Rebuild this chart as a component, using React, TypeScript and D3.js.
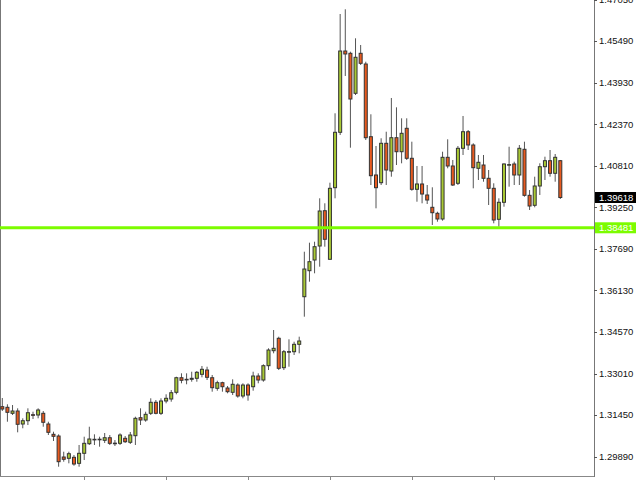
import { useRef, useEffect } from 'react';
import * as d3 from 'd3';

// OHLC, oldest first
const opens = [
  1.31764, 1.31741, 1.31516, 1.31602, 1.31114, 1.31238, 1.31463, 1.31452, 1.31516, 1.31114,
  1.30727, 1.30663, 1.29875, 1.29826, 1.29864, 1.29638, 1.30014, 1.30374, 1.30540, 1.30540,
  1.30502, 1.30599, 1.30395, 1.30389, 1.30577, 1.30427, 1.30675, 1.31351, 1.31264, 1.31516,
  1.31929, 1.31516, 1.31978, 1.32053, 1.32304, 1.32852, 1.32792, 1.32792, 1.32830, 1.32980,
  1.33141, 1.32852, 1.32454, 1.32665, 1.32465, 1.32304, 1.32578, 1.32165, 1.32578, 1.32514,
  1.32916, 1.32766, 1.33303, 1.33866, 1.34332, 1.33228, 1.33828, 1.33828, 1.34106, 1.35893,
  1.36870, 1.37271, 1.37797, 1.39122, 1.37298, 1.39986, 1.42066, 1.45118, 1.45032, 1.43530,
  1.45032, 1.44630, 1.41901, 1.40463, 1.40174, 1.41653, 1.40613, 1.41863, 1.41337, 1.42216,
  1.41090, 1.39926, 1.40125, 1.39712, 1.39250, 1.39025, 1.38811, 1.41127, 1.40801, 1.40151,
  1.41465, 1.42088, 1.41589, 1.40714, 1.40838, 1.40339, 1.39963, 1.38799, 1.39438, 1.40849,
  1.40876, 1.40463, 1.41428, 1.39700, 1.39325, 1.40050, 1.40774, 1.41000, 1.40527, 1.41000,
];
const highs = [
  1.32090, 1.31854, 1.31827, 1.31703, 1.31328, 1.31703, 1.31576, 1.31703, 1.31602, 1.31200,
  1.30825, 1.30727, 1.30074, 1.30074, 1.29950, 1.30326, 1.30637, 1.31012, 1.30727, 1.30637,
  1.30776, 1.30701, 1.30513, 1.30765, 1.30663, 1.30814, 1.31388, 1.31703, 1.31576, 1.32079,
  1.32015, 1.32079, 1.32229, 1.32390, 1.32890, 1.33017, 1.33017, 1.33077, 1.33104, 1.33292,
  1.33265, 1.32954, 1.32740, 1.32702, 1.32541, 1.32792, 1.32642, 1.32642, 1.32642, 1.33077,
  1.33017, 1.33355, 1.33956, 1.34643, 1.34392, 1.33892, 1.34294, 1.34204, 1.34392, 1.37583,
  1.37921, 1.37958, 1.39588, 1.39400, 1.40174, 1.42779, 1.46507, 1.46684, 1.45092, 1.45595,
  1.45344, 1.44716, 1.42742, 1.41551, 1.41841, 1.42088, 1.43354, 1.43004, 1.42591, 1.42591,
  1.41713, 1.40801, 1.40801, 1.40087, 1.40001, 1.39085, 1.41337, 1.41803, 1.41026, 1.41551,
  1.42678, 1.42152, 1.41653, 1.41214, 1.41214, 1.40650, 1.40151, 1.39588, 1.40902, 1.41525,
  1.40962, 1.41589, 1.41713, 1.39899, 1.40399, 1.40902, 1.41150, 1.41401, 1.41251, 1.41026,
];
const lows = [
  1.31602, 1.31200, 1.31452, 1.30802, 1.30953, 1.31076, 1.31302, 1.31328, 1.31012, 1.30701,
  1.30476, 1.29511, 1.29699, 1.29638, 1.29548, 1.29511, 1.29762, 1.30326, 1.30326, 1.30262,
  1.30401, 1.30326, 1.30288, 1.30326, 1.30401, 1.30363, 1.30326, 1.31076, 1.31200, 1.31452,
  1.31478, 1.31452, 1.31891, 1.31951, 1.32229, 1.32642, 1.32605, 1.32702, 1.32702, 1.32867,
  1.32766, 1.32327, 1.32364, 1.32327, 1.32267, 1.32203, 1.32102, 1.32079, 1.31989, 1.32364,
  1.32642, 1.32702, 1.33141, 1.33768, 1.33141, 1.33141, 1.33265, 1.33705, 1.33768, 1.35143,
  1.36457, 1.36772, 1.37020, 1.37771, 1.37290, 1.39588, 1.41964, 1.44180, 1.41488, 1.43466,
  1.44593, 1.41777, 1.40087, 1.39212, 1.40087, 1.40087, 1.40399, 1.40838, 1.40902, 1.41026,
  1.39873, 1.39460, 1.39400, 1.39374, 1.38586, 1.38709, 1.38747, 1.40714, 1.40050, 1.40087,
  1.41214, 1.41401, 1.39963, 1.40275, 1.40211, 1.39336, 1.38649, 1.38522, 1.39272, 1.40024,
  1.40087, 1.40087, 1.39648, 1.39149, 1.39250, 1.39712, 1.40275, 1.40399, 1.40211, 1.39562,
];
const closes = [
  1.31677, 1.31553, 1.31602, 1.31103, 1.31238, 1.31538, 1.31441, 1.31640, 1.31178, 1.30802,
  1.30652, 1.29699, 1.29789, 1.29999, 1.29612, 1.30014, 1.30389, 1.30551, 1.30536, 1.30544,
  1.30599, 1.30389, 1.30389, 1.30701, 1.30449, 1.30701, 1.31328, 1.31264, 1.31478, 1.31929,
  1.31516, 1.31978, 1.32079, 1.32289, 1.32852, 1.32755, 1.32788, 1.32830, 1.33055, 1.33168,
  1.32867, 1.32477, 1.32665, 1.32514, 1.32327, 1.32605, 1.32165, 1.32578, 1.32203, 1.32916,
  1.32766, 1.33303, 1.33892, 1.33956, 1.33205, 1.33828, 1.33832, 1.34106, 1.34230, 1.36933,
  1.37208, 1.37771, 1.39111, 1.38049, 1.39963, 1.42066, 1.45118, 1.45006, 1.43316, 1.44882,
  1.44656, 1.41863, 1.40436, 1.39986, 1.41653, 1.40650, 1.41863, 1.41337, 1.42028, 1.41090,
  1.39926, 1.40125, 1.39749, 1.39524, 1.39047, 1.38811, 1.41127, 1.40801, 1.40087, 1.41465,
  1.42088, 1.41589, 1.40737, 1.40940, 1.40339, 1.39963, 1.38773, 1.39438, 1.40876, 1.40853,
  1.40463, 1.41465, 1.39700, 1.39299, 1.40050, 1.40774, 1.41000, 1.40527, 1.41127, 1.39618,
];

const priceTicks = [1.4705, 1.4549, 1.4393, 1.4237, 1.4081, 1.3925, 1.3769, 1.3613, 1.3457, 1.3301, 1.3145, 1.2989];
const lastPrice = 1.39618;
const levelPrice = 1.38481;
const timeTickEvery = 16;

const W = 640;
const H = 480;
const plotRight = 594;
const plotBottom = 476;

const BULL = '#a9c934';
const BEAR = '#e85a1f';

export default function App() {
  const svgRef = useRef<SVGSVGElement>(null);

  useEffect(() => {
    if (!svgRef.current) return;
    document.body.style.margin = '0';

    const svg = d3.select(svgRef.current);
    svg.selectAll('*').remove();

    const n = opens.length;
    const x = d3.scaleLinear().domain([0, n - 1]).range([2.3, 560.3]);
    const y = d3.scaleLinear().domain([1.29162, 1.47033]).range([plotBottom, 0]);

    svg.append('rect').attr('width', W).attr('height', H).attr('fill', '#fff');

    // frame
    svg.append('line')
      .attr('x1', 0.5).attr('x2', 0.5).attr('y1', 0).attr('y2', plotBottom)
      .attr('stroke', '#777');
    svg.append('line')
      .attr('x1', 0).attr('x2', plotRight).attr('y1', plotBottom + 0.5).attr('y2', plotBottom + 0.5)
      .attr('stroke', '#888');
    svg.append('line')
      .attr('x1', plotRight + 0.5).attr('x2', plotRight + 0.5).attr('y1', 0).attr('y2', plotBottom + 1)
      .attr('stroke', '#777');

    // time ticks
    const tIdx = d3.range(timeTickEvery, n, timeTickEvery);
    svg.append('g').selectAll('line')
      .data(tIdx)
      .enter()
      .append('line')
      .attr('x1', d => Math.round(x(d)) + 0.5)
      .attr('x2', d => Math.round(x(d)) + 0.5)
      .attr('y1', plotBottom)
      .attr('y2', plotBottom + 4)
      .attr('stroke', '#888');

    // candles
    const idx = d3.range(n);
    const g = svg.append('g');
    g.selectAll('line.wick')
      .data(idx)
      .enter()
      .append('line')
      .attr('class', 'wick')
      .attr('x1', i => x(i)).attr('x2', i => x(i))
      .attr('y1', i => y(highs[i])).attr('y2', i => y(lows[i]))
      .attr('stroke', '#555')
      .attr('stroke-width', 1);

    g.selectAll('rect.body')
      .data(idx)
      .enter()
      .append('rect')
      .attr('class', 'body')
      .attr('x', i => x(i) - 1.5)
      .attr('width', 3)
      .attr('y', i => y(Math.max(opens[i], closes[i])))
      .attr('height', i => Math.max(0.6, Math.abs(y(opens[i]) - y(closes[i]))))
      .attr('fill', i => (closes[i] >= opens[i] ? BULL : BEAR))
      .attr('stroke', '#333')
      .attr('stroke-width', 1);

    // horizontal level
    svg.append('line')
      .attr('x1', 0).attr('x2', plotRight)
      .attr('y1', y(levelPrice)).attr('y2', y(levelPrice))
      .attr('stroke', '#7cfc00')
      .attr('stroke-width', 3);

    // price axis
    const axis = svg.append('g').style('font-family', '"Liberation Sans", Arial, sans-serif').style('font-size', '9.5px');
    axis.selectAll('line')
      .data(priceTicks)
      .enter()
      .append('line')
      .attr('x1', plotRight).attr('x2', plotRight + 3)
      .attr('y1', d => Math.round(y(d)) + 0.5).attr('y2', d => Math.round(y(d)) + 0.5)
      .attr('stroke', '#555');
    axis.selectAll('text')
      .data(priceTicks)
      .enter()
      .append('text')
      .attr('x', plotRight + 5)
      .attr('y', d => y(d))
      .attr('dy', '0.35em')
      .attr('fill', '#111')
      .text(d => d.toFixed(5));

    const tag = (price: number, bg: string, fg: string) => {
      const yy = y(price);
      axis.append('rect')
        .attr('x', plotRight + 1).attr('y', yy - 5.5)
        .attr('width', 41).attr('height', 11)
        .attr('fill', bg);
      axis.append('text')
        .attr('x', plotRight + 5).attr('y', yy)
        .attr('dy', '0.35em')
        .attr('fill', fg)
        .text(price.toFixed(5));
    };
    tag(lastPrice, '#000', '#fff');
    tag(levelPrice, '#7cfc00', '#fff');
  }, []);

  return (
    <svg ref={svgRef} width={W} height={H} style={{ position: 'absolute', left: 0, top: 0, display: 'block' }} />
  );
}
